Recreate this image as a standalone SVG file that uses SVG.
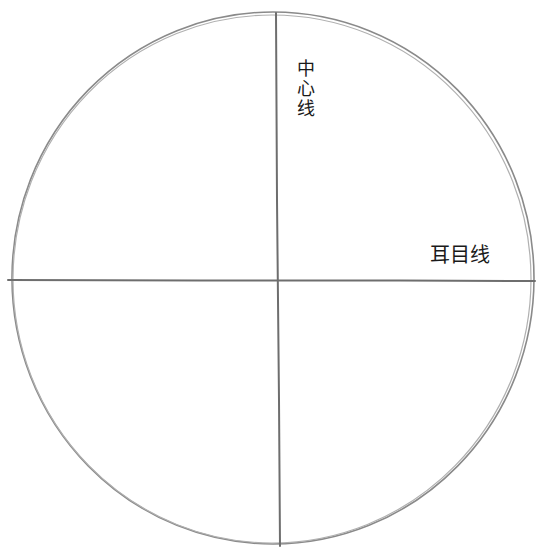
<svg xmlns="http://www.w3.org/2000/svg" width="540" height="547" viewBox="0 0 540 547">
<style>
.pencil{fill:none;stroke:#8a8a8a;stroke-width:1.6;stroke-linecap:round}
.faint{fill:none;stroke:#b0b0b0;stroke-width:1.2}
.axis{fill:none;stroke:#6e6e6e;stroke-width:2;stroke-linecap:round}
.lbl{font-family:"Noto Sans CJK SC","Noto Sans",sans-serif;fill:#1a1a1a}
</style>
<rect width="540" height="547" fill="#ffffff"/>
<g id="circle">
<ellipse class="pencil" cx="273" cy="278" rx="261" ry="266"/>
<ellipse class="faint" cx="272" cy="279" rx="259" ry="264"/>
</g>
<g id="connectors">
<path class="axis" d="M276 13 L277 200 L279 400 L280 546"/>
<path class="axis" d="M8 280 L200 280.5 L400 280.5 L535 281"/>
</g>
<g id="center-line-label">
<text class="lbl" font-size="18" x="306" y="59" writing-mode="tb" letter-spacing="2">中心线</text>
</g>
<g id="ear-eye-line-label">
<text class="lbl" font-size="20" x="460" y="262" text-anchor="middle">耳目线</text>
</g>
</svg>
